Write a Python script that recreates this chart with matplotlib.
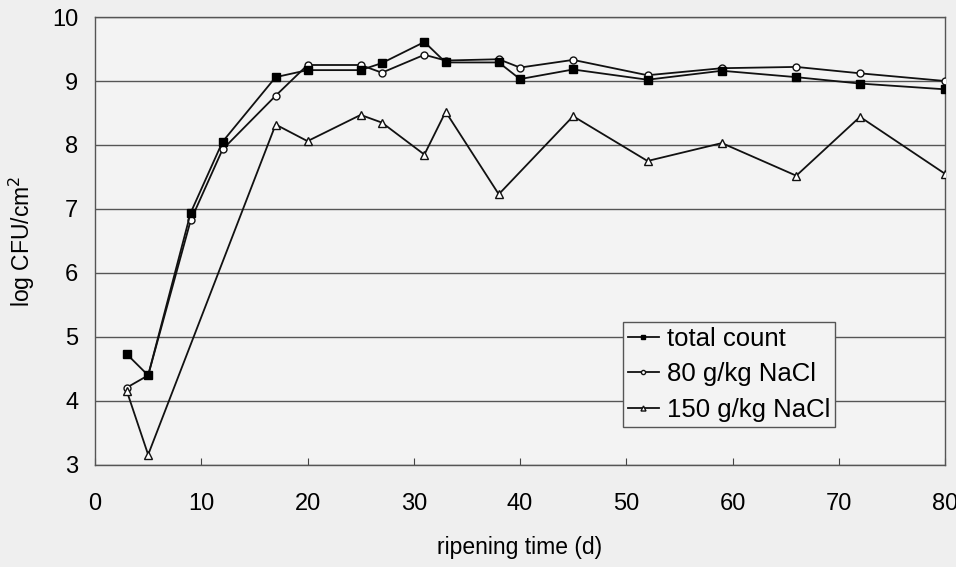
import matplotlib
matplotlib.use("Agg")
import matplotlib.pyplot as plt

plt.rcParams['font.family'] = ['Liberation Sans', 'DejaVu Sans']

days_total = [3, 5, 9, 12, 17, 20, 25, 27, 31, 33, 38, 40, 45, 52, 59, 66, 72, 80]
total_count = [4.73, 4.40, 6.94, 8.05, 9.06, 9.17, 9.17, 9.28, 9.61, 9.29, 9.29, 9.03, 9.18, 9.02, 9.16, 9.06, 8.96, 8.87]

days_80 = [3, 5, 9, 12, 17, 20, 25, 27, 31, 33, 38, 40, 45, 52, 59, 66, 72, 80]
nacl_80 = [4.21, 4.40, 6.82, 7.93, 8.77, 9.25, 9.25, 9.13, 9.41, 9.32, 9.34, 9.21, 9.33, 9.09, 9.20, 9.22, 9.12, 9.00]

days_150 = [3, 5, 17, 20, 25, 27, 31, 33, 38, 45, 52, 59, 66, 72, 80]
nacl_150 = [4.15, 3.16, 8.32, 8.06, 8.47, 8.35, 7.85, 8.52, 7.23, 8.45, 7.75, 8.03, 7.52, 8.44, 7.55]

x_ticks = [0, 10, 20, 30, 40, 50, 60, 70, 80]
y_ticks = [3, 4, 5, 6, 7, 8, 9, 10]

fig = plt.figure(figsize=(9.56, 5.67), dpi=100, facecolor='#efefef')
ax = fig.add_axes([0.0994, 0.180, 0.8891, 0.790])
ax.set_facecolor('#f3f3f3')

lc = '#111111'
ax.plot(days_total, total_count, color=lc, lw=1.3, marker='s', ms=5.5,
        mfc='black', mec='black', label='total count', zorder=4)
ax.plot(days_80, nacl_80, color=lc, lw=1.3, marker='o', ms=5,
        mfc='white', mec=lc, mew=1.0, label='80 g/kg NaCl', zorder=3)
ax.plot(days_150, nacl_150, color=lc, lw=1.3, marker='^', ms=6,
        mfc='white', mec=lc, mew=1.0, label='150 g/kg NaCl', zorder=3)

ax.set_xlim(0, 80)
ax.set_ylim(3, 10)
ax.set_xticks(x_ticks)
ax.set_yticks(y_ticks)
ax.tick_params(axis='x', direction='in', length=5, labelsize=17, pad=20, color='#444444')
ax.tick_params(axis='y', length=0, labelsize=17, pad=12)
ax.yaxis.grid(True, color='#555555', lw=1.0)
ax.set_axisbelow(True)
for s in ax.spines.values():
    s.set_color('#555555')
    s.set_linewidth(1.0)

ax.set_xlabel('ripening time (d)', fontsize=16.5, labelpad=15)
ax.set_ylabel('log CFU/cm$^2$', fontsize=16.5, labelpad=11)

leg = ax.legend(loc='lower right', bbox_to_anchor=(0.8706, 0.0848), fontsize=18.5,
                frameon=True, fancybox=False, framealpha=1, edgecolor='#555555',
                facecolor='#f3f3f3', handlelength=1.2, handletextpad=0.3,
                borderpad=0.2, labelspacing=0.45, markerscale=0.6,
                borderaxespad=0)
leg.get_frame().set_linewidth(1.0)

fig.savefig('out.png', dpi=100, facecolor=fig.get_facecolor())
